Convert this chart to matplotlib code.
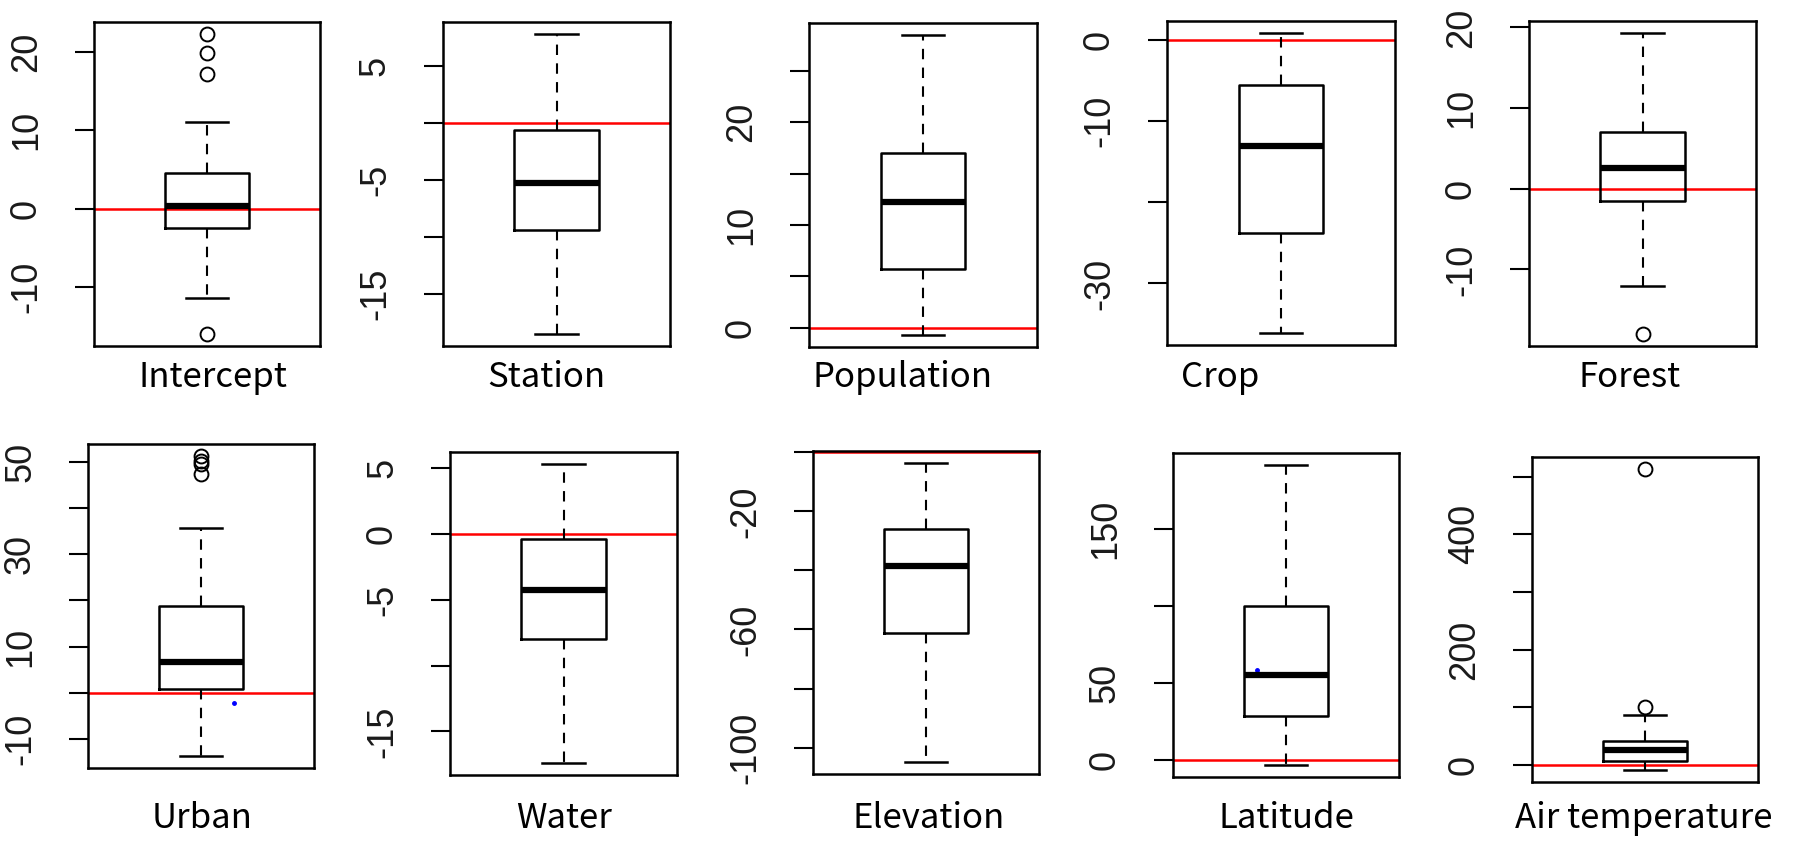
import matplotlib
matplotlib.use("Agg")
import matplotlib.pyplot as plt

# ---------------------------------------------------------------------------
# Data
# ---------------------------------------------------------------------------

NAMES = ["Intercept", "Station", "Population", "Crop", "Forest",
         "Urban", "Water", "Elevation", "Latitude", "Air temperature"]

# box statistics: lower whisker, lower hinge, median, upper hinge, upper whisker
WHISLO = [-11.4, -18.5, -0.7, -36.1, -12.1, -13.6, -17.4, -104.9, -3.3, -8.7]
Q1     = [-2.5, -9.35, 5.7, -23.8, -1.46, 0.93, -8.0, -61.1, 28.7, 7.7]
MEDIAN = [0.35, -5.28, 12.2, -13.1, 2.6, 6.7, -4.27, -38.6, 54.9, 25.2]
Q3     = [4.5, -0.58, 17.0, -5.6, 7.0, 18.8, -0.38, -25.8, 99.9, 40.9]
WHISHI = [11.1, 7.8, 28.5, 0.83, 19.3, 35.7, 5.34, -3.6, 191.4, 86.4]

FLIERS = [
    [22.3, 19.9, 17.2, -16.0],
    [],
    [],
    [],
    [-18.0],
    [51.2, 50.2, 49.4, 47.3],
    [],
    [],
    [],
    [513.0, 101.0],
]

REF_LINE = [0, 0, 0, 0, 0, 0, 0, 0, 0, 0]

TICKS = [
    [-10, 0, 10, 20],
    [-15, -10, -5, 0, 5],
    [0, 5, 10, 15, 20, 25],
    [-30, -20, -10, 0],
    [-10, 0, 10, 20],
    [-10, 0, 10, 20, 30, 40, 50],
    [-15, -10, -5, 0, 5],
    [-100, -80, -60, -40, -20, 0],
    [0, 50, 100, 150],
    [0, 100, 200, 300, 400, 500],
]
TICK_LABELS = [
    ["-10", "0", "10", "20"],
    ["-15", "", "-5", "", "5"],
    ["0", "", "10", "", "20", ""],
    ["-30", "", "-10", "0"],
    ["-10", "0", "10", "20"],
    ["-10", "", "10", "", "30", "", "50"],
    ["-15", "", "-5", "0", "5"],
    ["-100", "", "-60", "", "-20", ""],
    ["0", "50", "", "150"],
    ["0", "", "200", "", "400", ""],
]

# stray blue specks in the picture (panel index, x, y)
SPECK_PANEL = [5, 8]
SPECK_X = [1.16, 0.86]
SPECK_Y = [-2.2, 58.3]

# ---------------------------------------------------------------------------
# Layout (pixels, from top-left)
# ---------------------------------------------------------------------------

W, H = 1798, 863
FRAMES = [
    (94, 22, 320, 346), (443, 22, 670, 346), (809, 23, 1037, 347),
    (1167, 21, 1395, 345), (1529, 21, 1756, 346),
    (88, 444, 314, 768), (450, 452, 677, 775), (813, 451, 1039, 774),
    (1173, 453, 1399, 777), (1532, 457, 1758, 782),
]
LABEL_POS = [
    (213, 387), (546, 387), (903, 387), (1220, 387), (1630, 387),
    (202, 828), (564, 828), (929, 828), (1286, 828), (1644, 828),
]

fig = plt.figure(figsize=(W / 100, H / 100), dpi=100)
fig.patch.set_facecolor("white")

for i, name in enumerate(NAMES):
    x0, y0, x1, y1 = FRAMES[i]
    ax = fig.add_axes([x0 / W, 1 - y1 / H, (x1 - x0) / W, (y1 - y0) / H])

    stats = [{
        "med": MEDIAN[i], "q1": Q1[i], "q3": Q3[i],
        "whislo": WHISLO[i], "whishi": WHISHI[i], "fliers": FLIERS[i],
    }]
    ax.bxp(stats, positions=[1], widths=0.4, capwidths=0.2,
           boxprops=dict(color="black", linewidth=1.8),
           medianprops=dict(color="black", linewidth=4.5, solid_capstyle="butt"),
           whiskerprops=dict(color="black", linewidth=1.5, linestyle=(0, (5, 4))),
           capprops=dict(color="black", linewidth=1.8),
           flierprops=dict(marker="o", markerfacecolor="none",
                           markeredgecolor="black", markersize=10,
                           markeredgewidth=1.4))

    ax.axhline(REF_LINE[i], color="red", linewidth=1.8, zorder=1)

    for p, sx, sy in zip(SPECK_PANEL, SPECK_X, SPECK_Y):
        if p == i:
            ax.plot([sx], [sy], marker="o", color="blue", markersize=2.5,
                    linestyle="none")

    vals = [WHISLO[i], WHISHI[i]] + FLIERS[i]
    lo, hi = min(vals), max(vals)
    pad = 0.04 * (hi - lo)
    ax.set_ylim(lo - pad, hi + pad)
    ax.set_xlim(0.46, 1.54)

    ax.set_xticks([])
    ax.set_yticks(TICKS[i])
    ax.set_yticklabels(TICK_LABELS[i], rotation=90, va="center",
                       family="Liberation Sans", fontsize=26, color="#1a1a1a")
    ax.tick_params(axis="y", direction="out", length=14, width=1.5, pad=22)
    for sp in ax.spines.values():
        sp.set_linewidth(1.8)
        sp.set_color("black")

    lx, ly = LABEL_POS[i]
    fig.text(lx / W, 1 - ly / H, name, ha="center", va="baseline",
             family=["Noto Sans CJK JP", "DejaVu Sans"], fontsize=25,
             color="black")

fig.savefig("out.png", dpi=100, facecolor="white")
